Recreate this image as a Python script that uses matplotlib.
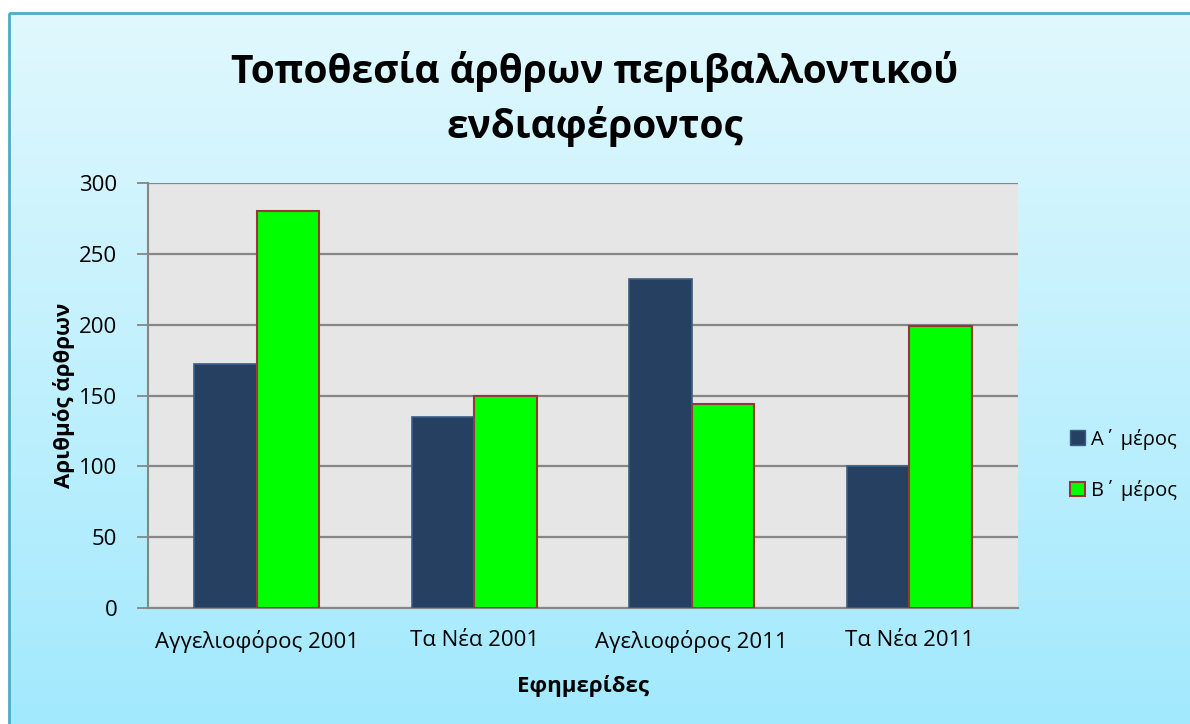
import numpy as np
import matplotlib.pyplot as plt
from matplotlib.patches import Rectangle, Patch

plt.rcParams['font.family'] = ['Open Sans', 'DejaVu Sans']

categories = ['Αγγελιοφόρος 2001', 'Τα Νέα 2001', 'Αγελιοφόρος 2011', 'Τα Νέα 2011']
part_a = [172, 135, 232, 100]
part_b = [280, 150, 144, 199]
series_names = ['Α΄ μέρος', 'Β΄ μέρος']
yticks = [0, 50, 100, 150, 200, 250, 300]

W, H = 1190, 724
fig = plt.figure(figsize=(W / 100, H / 100), dpi=100)
fig.patch.set_facecolor('white')

# background gradient + frame
bg = fig.add_axes([0, 0, 1, 1], zorder=-10)
bg.set_xlim(0, W)
bg.set_ylim(H, 0)
bg.axis('off')
top_c = np.array([224, 248, 254]) / 255
bot_c = np.array([162, 233, 253]) / 255
t = np.linspace(0, 1, 256)[:, None]
grad = (top_c * (1 - t) + bot_c * t)[:, None, :]
bg.imshow(grad, extent=[9, W + 5, H + 5, 13], aspect='auto', zorder=0)
bg.add_patch(Rectangle((9, 13), W, H, fill=False, edgecolor='#4bacc6',
                       linewidth=2, zorder=1))

ax = fig.add_axes([148 / W, (H - 608) / H, 870 / W, 425 / H])
ax.set_facecolor('#e6e6e6')

x = np.arange(len(categories))
width = 0.2875
ax.bar(x - width / 2, part_a, width, color='#264061', edgecolor='#3b5d87',
       linewidth=1.2, label=series_names[0], zorder=3)
ax.bar(x + width / 2, part_b, width, color='#00ff00', edgecolor='#953735',
       linewidth=1.5, label=series_names[1], zorder=3)

ax.set_xlim(-0.5, len(categories) - 0.5)
ax.set_ylim(0, 300)
ax.set_yticks(yticks)
ax.yaxis.grid(True, color='#868686', linewidth=1.6, zorder=1)
ax.set_axisbelow(True)
ax.set_xticks(x)
ax.set_xticklabels(categories)
ax.tick_params(axis='x', length=0, pad=16, labelsize=16)
ax.tick_params(axis='y', length=8, width=1.3, color='#868686', pad=14,
               labelsize=16)
for s in ['top', 'right']:
    ax.spines[s].set_visible(False)
for s in ['left', 'bottom']:
    ax.spines[s].set_color('#868686')
    ax.spines[s].set_linewidth(1.5)

ax.set_ylabel('Αριθμός άρθρων', fontsize=16, fontweight='bold', labelpad=3)
ax.set_xlabel('Εφημερίδες', fontsize=16, fontweight='bold', labelpad=16)

fig.text(0.5, (H - 99) / H, 'Τοποθεσία άρθρων περιβαλλοντικού\nενδιαφέροντος',
         ha='center', va='center', fontsize=28, fontweight='bold',
         linespacing=1.45)

handles = [Patch(facecolor='#264061', edgecolor='#3b5d87'),
           Patch(facecolor='#00ff00', edgecolor='#953735', linewidth=1.5)]
fig.legend(handles, series_names, loc='center left',
           bbox_to_anchor=(1052 / W, (H - 465) / H), frameon=False,
           fontsize=14.5, handlelength=0.75, handleheight=0.75,
           handletextpad=0.3, labelspacing=1.5)

fig.savefig('out.png', dpi=100)
